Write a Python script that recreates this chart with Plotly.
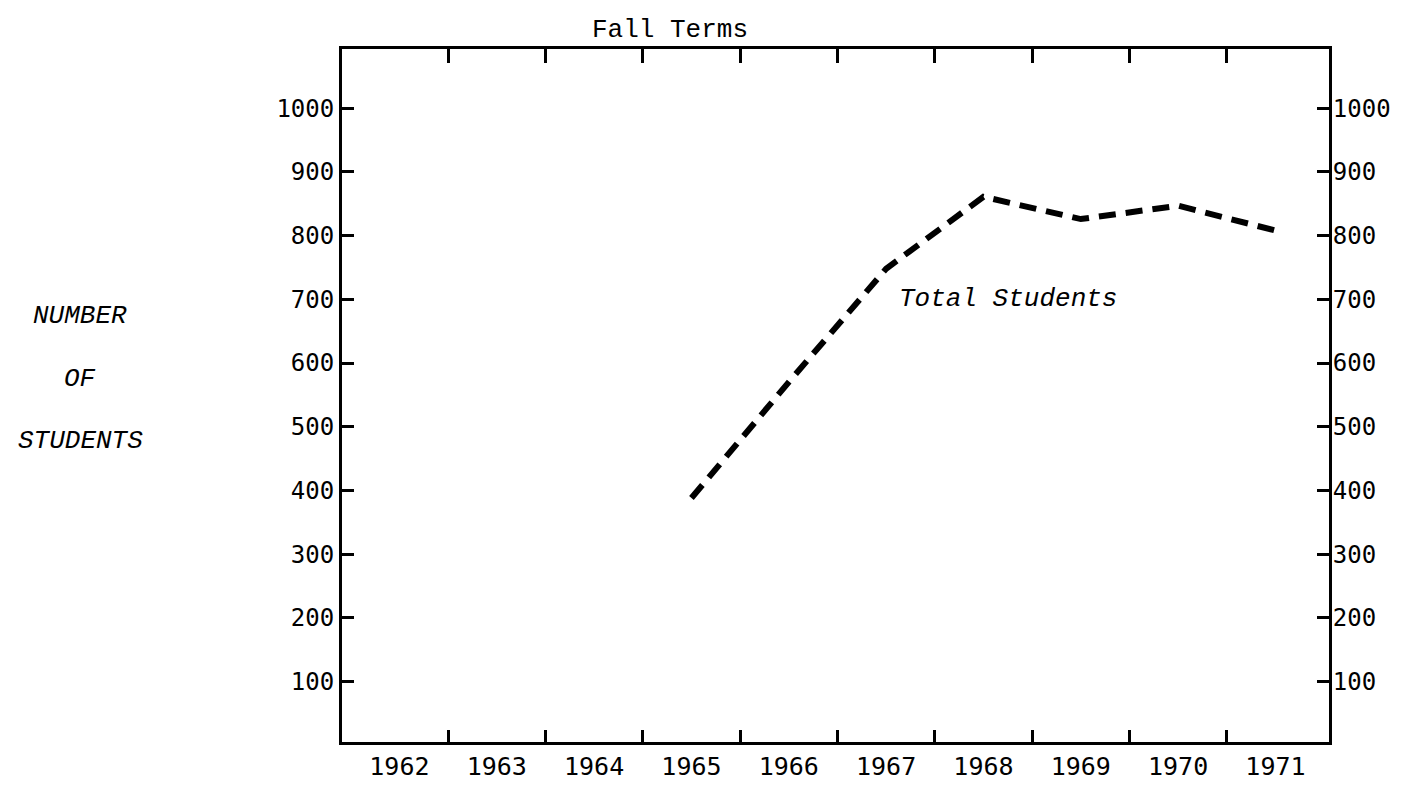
import plotly.graph_objects as go

# ---- data ----
years = [1965, 1966, 1967, 1968, 1969, 1970, 1971]
total_students = [388, 570, 748, 861, 826, 847, 808]
year_ticks = list(range(1962, 1972))
year_labels = [str(y) for y in year_ticks]
boundary_ticks = [y + 0.5 for y in range(1962, 1971)]
count_ticks = list(range(100, 1001, 100))
count_labels = [str(v) for v in count_ticks]

X_RANGE = [1961.41, 1971.55]
Y_RANGE = [5, 1093]

MONO = "DejaVu Sans Mono"
TYPE = "Liberation Mono"

fig = go.Figure()
fig.add_trace(go.Scatter(
    x=years, y=total_students, mode="lines",
    line=dict(color="black", width=6, dash="17px,10px"),
    showlegend=False, hoverinfo="skip"))
# carrier for secondary (top / right) axes
fig.add_trace(go.Scatter(x=[None], y=[None], xaxis="x2", yaxis="y2",
                         showlegend=False, hoverinfo="skip"))

axis_common = dict(showline=True, linecolor="black", linewidth=3,
                   showgrid=False, zeroline=False)

fig.update_layout(
    width=1402, height=785,
    margin=dict(l=334, r=81, t=41, b=32),
    paper_bgcolor="white", plot_bgcolor="white",
    title=dict(text="Fall Terms", x=662/1402, xanchor="center", xref="container",
               y=1 - 20/785, yanchor="middle", yref="container",
               font=dict(family=TYPE, size=26, color="black")),
    xaxis=dict(range=X_RANGE, tickmode="array", tickvals=year_ticks, ticktext=year_labels,
               ticks="", tickfont=dict(family=MONO, size=25, color="black"),
               minor=dict(tickmode="array", tickvals=boundary_ticks, ticks="inside",
                          ticklen=12, tickwidth=3, tickcolor="black", showgrid=False),
               **axis_common),
    xaxis2=dict(range=X_RANGE, overlaying="x", side="top", anchor="y",
                tickmode="array", tickvals=boundary_ticks, ticks="inside",
                ticklen=14, tickwidth=3, tickcolor="black", showticklabels=False,
                **axis_common),
    yaxis=dict(range=Y_RANGE, tickmode="array", tickvals=count_ticks, ticktext=count_labels,
               ticks="inside", ticklen=12, tickwidth=3, tickcolor="black",
               tickfont=dict(family=MONO, size=24, color="black"),
               **axis_common),
    yaxis2=dict(range=Y_RANGE, overlaying="y", side="right", anchor="x",
                tickmode="array", tickvals=count_ticks, ticktext=count_labels,
                ticks="inside", ticklen=12, tickwidth=3, tickcolor="black",
                ticklabelstandoff=-4,
                tickfont=dict(family=MONO, size=24, color="black"),
                **axis_common),
)

italic = dict(family=TYPE, size=26, color="black", style="italic")
fig.add_annotation(text="Total Students", x=1968.25, y=701, xref="x", yref="y",
                   showarrow=False, font=italic)
for txt, yp in [("NUMBER", 0.615), ("OF", 0.524), ("STUDENTS", 0.435)]:
    fig.add_annotation(text=txt, x=-0.265, y=yp, xref="paper", yref="paper",
                       xanchor="center", yanchor="middle",
                       showarrow=False, font=italic)

fig.write_html("out.html")
